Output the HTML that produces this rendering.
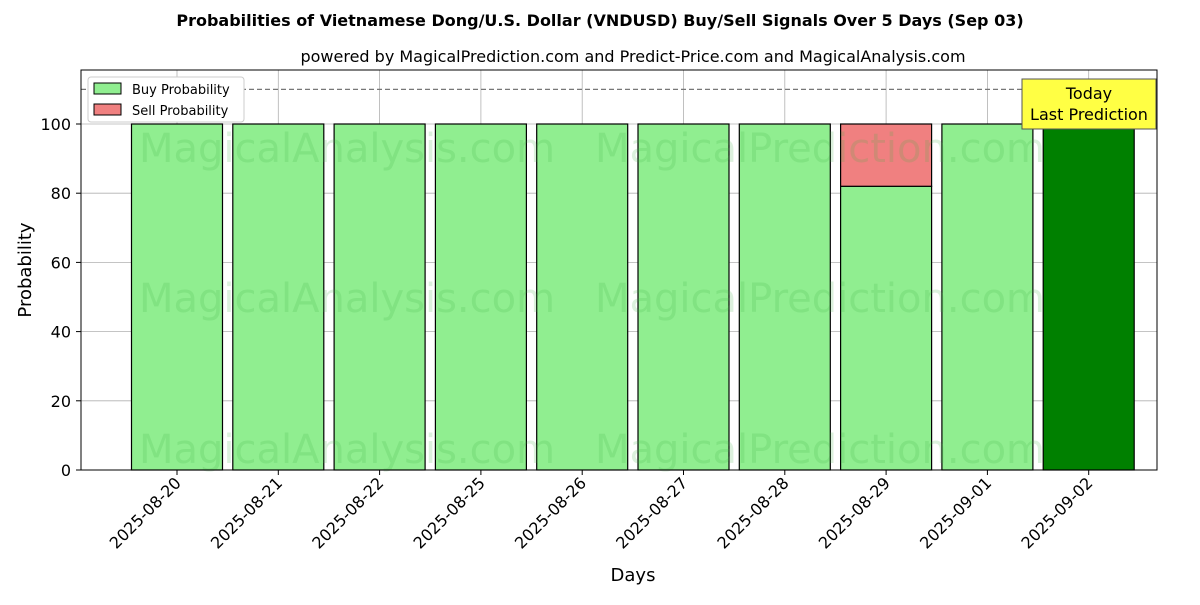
<!DOCTYPE html>
<html><head><meta charset="utf-8"><style>
body{margin:0;background:#fff;font-family:"Liberation Sans","DejaVu Sans",sans-serif}
</style></head><body>
<svg width="1200" height="600" xmlns="http://www.w3.org/2000/svg" font-family="DejaVu Sans, Liberation Sans, sans-serif">
<rect width="1200" height="600" fill="#fff"/>
<text x="600" y="26" text-anchor="middle" font-size="16" font-weight="bold">Probabilities of Vietnamese Dong/U.S. Dollar (VNDUSD) Buy/Sell Signals Over 5 Days (Sep 03)</text>
<text x="633" y="62" text-anchor="middle" font-size="16">powered by MagicalPrediction.com and Predict-Price.com and MagicalAnalysis.com</text>
<g id="grid"></g>
<g id="bars"></g>
<g id="wm" font-size="40" fill="#3cb043" fill-opacity="0.18">
<text x="347" y="162" text-anchor="middle">MagicalAnalysis.com</text>
<text x="820" y="162" text-anchor="middle">MagicalPrediction.com</text>
<text x="347" y="312" text-anchor="middle">MagicalAnalysis.com</text>
<text x="820" y="312" text-anchor="middle">MagicalPrediction.com</text>
<text x="347" y="463" text-anchor="middle">MagicalAnalysis.com</text>
<text x="820" y="463" text-anchor="middle">MagicalPrediction.com</text>
</g>
<line id="thr" x1="81" x2="1157" stroke="#777" stroke-width="1.3" stroke-dasharray="5,3"/>
<rect x="81" y="70" width="1076" height="400" fill="none" stroke="#000" stroke-width="1"/>
<g id="ticks"></g>
<text x="633" y="581" text-anchor="middle" font-size="18">Days</text>
<text transform="translate(31,270) rotate(-90)" text-anchor="middle" font-size="18">Probability</text>
<g>
<rect x="88" y="77" width="156" height="45" fill="#fff" stroke="#ccc" rx="3"/>
<rect x="94" y="83" width="27" height="11" fill="#90ee90" stroke="#000"/>
<text x="132" y="94" font-size="13">Buy Probability</text>
<rect x="94" y="104" width="27" height="11" fill="#f08080" stroke="#000"/>
<text x="132" y="115" font-size="13">Sell Probability</text>
</g>
<g>
<rect x="1022" y="79" width="134" height="50" fill="#ffff44" stroke="#555"/>
<text x="1089" y="99" text-anchor="middle" font-size="16">Today</text>
<text x="1089" y="120" text-anchor="middle" font-size="16">Last Prediction</text>
</g>
</svg>
<script>
const categories=["2025-08-20","2025-08-21","2025-08-22","2025-08-25","2025-08-26","2025-08-27","2025-08-28","2025-08-29","2025-09-01","2025-09-02"];
const buyValues=[100,100,100,100,100,100,100,82,100,100];
const sellValues=[0,0,0,0,0,0,0,18,0,0];
const yTicks=[0,20,40,60,80,100];
const threshold=110;
const NS="http://www.w3.org/2000/svg";
const y=v=>470-v*3.46;
const x=i=>177+i*101.3;
const bw=91;
function mk(t,a,p){const e=document.createElementNS(NS,t);for(const k in a)e.setAttribute(k,a[k]);p.appendChild(e);return e;}
const grid=document.getElementById('grid'),bars=document.getElementById('bars'),ticks=document.getElementById('ticks');
yTicks.forEach(v=>{
 const g=mk('line',{x1:81,x2:1157,y1:y(v),y2:y(v),stroke:'#b0b0b0','stroke-width':0.8},grid);
 
 
 mk('line',{x1:76,x2:81,y1:y(v),y2:y(v),stroke:'#000'},ticks);
 const t=mk('text',{x:71,y:y(v)+6,'text-anchor':'end','font-size':16},ticks);t.textContent=v;
 
 
});
const thr=document.getElementById('thr');thr.setAttribute('y1',y(threshold));thr.setAttribute('y2',y(threshold));
categories.forEach((c,i)=>{
 const g=mk('line',{x1:x(i),x2:x(i),y1:70,y2:470,stroke:'#b0b0b0','stroke-width':0.8},grid);
 
 
 const last=i===categories.length-1;
 const b=mk('rect',{x:x(i)-bw/2,y:y(buyValues[i]),width:bw,height:y(0)-y(buyValues[i]),fill:last?'#008000':'#90ee90',stroke:'#000','stroke-width':1.2},bars);
 
 
 if(sellValues[i]>0){
  const s=mk('rect',{x:x(i)-bw/2,y:y(buyValues[i]+sellValues[i]),width:bw,height:y(buyValues[i])-y(buyValues[i]+sellValues[i]),fill:'#f08080',stroke:'#000','stroke-width':1.2},bars);
  
  
 }
 mk('line',{x1:x(i),x2:x(i),y1:470,y2:475,stroke:'#000'},ticks);
 const t=mk('text',{x:0,y:0,'text-anchor':'end','font-size':16,transform:`translate(${x(i)+5},${484}) rotate(-45)`},ticks);t.textContent=c;
 
 
});
</script>
</body></html>
